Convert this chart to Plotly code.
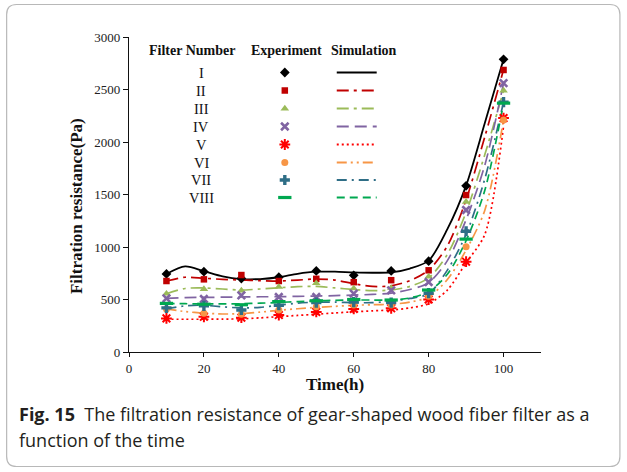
import plotly.graph_objects as go

# ---------------- data ----------------
time_exp = [10, 20, 30, 40, 50, 60, 70, 80, 90, 100]
time_sim = [10, 15, 20, 25, 30, 35, 40, 45, 50, 55, 60, 65, 70, 75, 80, 85, 90, 95, 100]

filter_names = ["I", "II", "III", "IV", "V", "VI", "VII", "VIII"]

exp_I    = [743, 765, 700, 712, 772, 730, 772, 865, 1583, 2787]
exp_II   = [676, 692, 733, 676, 697, 665, 684, 778, 1495, 2686]
exp_III  = [555, 600, 585, 620, 655, 605, 610, 717, 1430, 2490]
exp_IV   = [511, 505, 540, 524, 524, 556, 587, 667, 1352, 2560]
exp_V    = [320, 335, 327, 352, 382, 410, 416, 500, 860, 2228]
exp_VI   = [410, 368, 359, 400, 432, 448, 448, 530, 1003, 2210]
exp_VII  = [420, 440, 400, 445, 470, 475, 470, 560, 1150, 2380]
exp_VIII = [463, 455, 450, 480, 488, 500, 495, 590, 1075, 2370]

sim_I    = [743, 815, 770, 720, 695, 695, 712, 745, 765, 765, 758, 755, 758, 795, 870, 1170, 1585, 2180, 2787]
sim_II   = [676, 712, 702, 692, 686, 680, 676, 685, 695, 685, 650, 625, 630, 680, 780, 1010, 1450, 2050, 2690]
sim_III  = [555, 605, 610, 600, 590, 600, 612, 622, 625, 610, 595, 585, 590, 625, 705, 930, 1330, 1880, 2490]
sim_IV   = [511, 518, 520, 522, 525, 526, 527, 530, 533, 537, 542, 548, 560, 595, 660, 870, 1260, 1780, 2560]
sim_V    = [312, 312, 312, 313, 316, 325, 337, 348, 360, 372, 383, 392, 400, 420, 460, 590, 850, 1120, 2150]
sim_VI   = [410, 385, 370, 362, 365, 380, 397, 412, 425, 435, 445, 450, 455, 475, 525, 690, 970, 1350, 2210]
sim_VII  = [410, 440, 445, 430, 420, 425, 445, 465, 475, 475, 470, 470, 485, 510, 555, 780, 1120, 1650, 2380]
sim_VIII = [463, 460, 458, 458, 460, 465, 472, 480, 487, 492, 495, 495, 495, 515, 575, 740, 1060, 1540, 2370]

x_ticks = [0, 20, 40, 60, 80, 100]
y_ticks = [0, 500, 1000, 1500, 2000, 2500, 3000]

exp_data = [exp_I, exp_II, exp_III, exp_IV, exp_V, exp_VI, exp_VII, exp_VIII]
sim_data = [sim_I, sim_II, sim_III, sim_IV, sim_V, sim_VI, sim_VII, sim_VIII]

# ---------------- styles ----------------
colors = ["#000000", "#C00000", "#9BBB59", "#8064A2", "#FF0000", "#F79646", "#2F6E86", "#00A850"]
dashes = ["solid", "12px,5px,3px,5px", "12px,5px,3px,5px", "12px,6px", "2px,3px",
          "10px,4px,2px,4px,2px,4px", "10px,5px,2px,5px", "8px,5px"]
symbols = ["diamond", "square", "triangle-up", "x-thin-open", "asterisk-open", "circle", "cross", "line-ew-open"]
msizes = [7.5, 6.5, 7.5, 7.5, 9, 7, 8.5, 9.5]
mlines = [0, 0, 0, 2.6, 2, 0, 0, 3.2]

W, H = 627, 472
L, R, T, B = 129, 541.5, 37, 352

def px(xp):
    return (xp - L) / (R - L)

def py(yp):
    return (B - yp) / (B - T)

fig = go.Figure()

for i in range(8):
    fig.add_trace(go.Scatter(
        x=time_sim, y=sim_data[i], mode="lines",
        line=dict(color=colors[i], width=1.8 if i == 0 else 1.7, dash=dashes[i],
                  shape="spline", smoothing=0.8),
        showlegend=False, hoverinfo="skip"))

for i in range(8):
    fig.add_trace(go.Scatter(
        x=time_exp, y=exp_data[i], mode="markers",
        marker=dict(symbol=symbols[i], size=msizes[i], color=colors[i],
                    line=dict(color=colors[i], width=mlines[i])),
        showlegend=False))

# ---------------- custom legend table (x2/y2 in page pixels) ----------------
row_y = [72.5, 90.5, 108.5, 126.5, 144.5, 162.5, 180, 197.5]
col_num, col_exp, sim_x0, sim_x1 = 201.5, 285, 337, 377

for i in range(8):
    fig.add_trace(go.Scatter(
        x=[sim_x0, sim_x1], y=[row_y[i], row_y[i]], mode="lines",
        line=dict(color=colors[i], width=1.8, dash=dashes[i]),
        xaxis="x2", yaxis="y2", showlegend=False, hoverinfo="skip"))
    fig.add_trace(go.Scatter(
        x=[col_exp], y=[row_y[i]], mode="markers",
        marker=dict(symbol=symbols[i], size=msizes[i], color=colors[i],
                    line=dict(color=colors[i], width=mlines[i])),
        xaxis="x2", yaxis="y2", showlegend=False, hoverinfo="skip"))

annotations = []
serif = "Liberation Serif"
for txt, xc in [("Filter Number", 192), ("Experiment", 287), ("Simulation", 364)]:
    annotations.append(dict(x=xc, y=50, xref="x2", yref="y2", text="<b>%s</b>" % txt,
                            showarrow=False, xanchor="center", yanchor="middle",
                            font=dict(family=serif, size=14, color="#111")))
for i, nm in enumerate(filter_names):
    annotations.append(dict(x=col_num, y=row_y[i], xref="x2", yref="y2", text=nm,
                            showarrow=False, xanchor="center", yanchor="middle",
                            font=dict(family=serif, size=14.5, color="#111")))

# axis titles
annotations.append(dict(x=px(335), y=py(384), xref="paper", yref="paper",
                        text="<b>Time(h)</b>", showarrow=False,
                        xanchor="center", yanchor="middle",
                        font=dict(family=serif, size=17, color="#111")))
annotations.append(dict(x=px(76), y=py(206), xref="paper", yref="paper",
                        text="<b>Filtration resistance(Pa)</b>", showarrow=False,
                        textangle=-90, xanchor="center", yanchor="middle",
                        font=dict(family=serif, size=17, color="#111")))
# caption
cap_font = dict(family="Open Sans", size=18, color="#231F20")
annotations.append(dict(x=px(17), y=py(414), xref="paper", yref="paper",
                        text="<b>Fig. 15</b>&nbsp;&nbsp;The filtration resistance of gear-shaped wood fiber filter as a",
                        showarrow=False, xanchor="left", yanchor="middle", font=cap_font))
annotations.append(dict(x=px(17), y=py(440), xref="paper", yref="paper",
                        text="function of the time",
                        showarrow=False, xanchor="left", yanchor="middle", font=cap_font))

# rounded border
x0, y0, x1, y1, r = px(6.5), py(4.5), px(620.5), py(466.5), 10
rx = r / (R - L)
ry = r / (B - T)
path = (f"M {x0+rx},{y0} L {x1-rx},{y0} Q {x1},{y0} {x1},{y0-ry} "
        f"L {x1},{y1+ry} Q {x1},{y1} {x1-rx},{y1} "
        f"L {x0+rx},{y1} Q {x0},{y1} {x0},{y1+ry} "
        f"L {x0},{y0-ry} Q {x0},{y0} {x0+rx},{y0} Z")
shapes = [dict(type="path", xref="paper", yref="paper", path=path,
               line=dict(color="#B8B8B8", width=1.2), fillcolor="rgba(0,0,0,0)")]

tickfont = dict(family=serif, size=13, color="#222")
fig.update_layout(
    width=W, height=H,
    margin=dict(l=L, r=W - R, t=T, b=H - B, pad=0),
    paper_bgcolor="white", plot_bgcolor="white",
    xaxis=dict(range=[0, 110], tickvals=x_ticks, ticktext=[str(v) for v in x_ticks],
               showgrid=False, zeroline=False, showline=True, linecolor="#111", linewidth=1.3,
               ticks="outside", ticklen=4, tickcolor="#111", tickfont=tickfont),
    yaxis=dict(range=[0, 3000], tickvals=y_ticks, ticktext=[str(v) for v in y_ticks],
               showgrid=False, zeroline=False, showline=True, linecolor="#111", linewidth=1.3,
               ticks="outside", ticklen=5, tickcolor="#111", tickfont=tickfont),
    xaxis2=dict(range=[L, R], overlaying="x", anchor="y2", visible=False),
    yaxis2=dict(range=[B, T], overlaying="y", anchor="x2", visible=False),
    annotations=annotations, shapes=shapes, showlegend=False,
)

fig.write_html("out.html", config={"displayModeBar": False},
               post_script="document.body.style.margin='0px';document.body.style.overflow='hidden';")
